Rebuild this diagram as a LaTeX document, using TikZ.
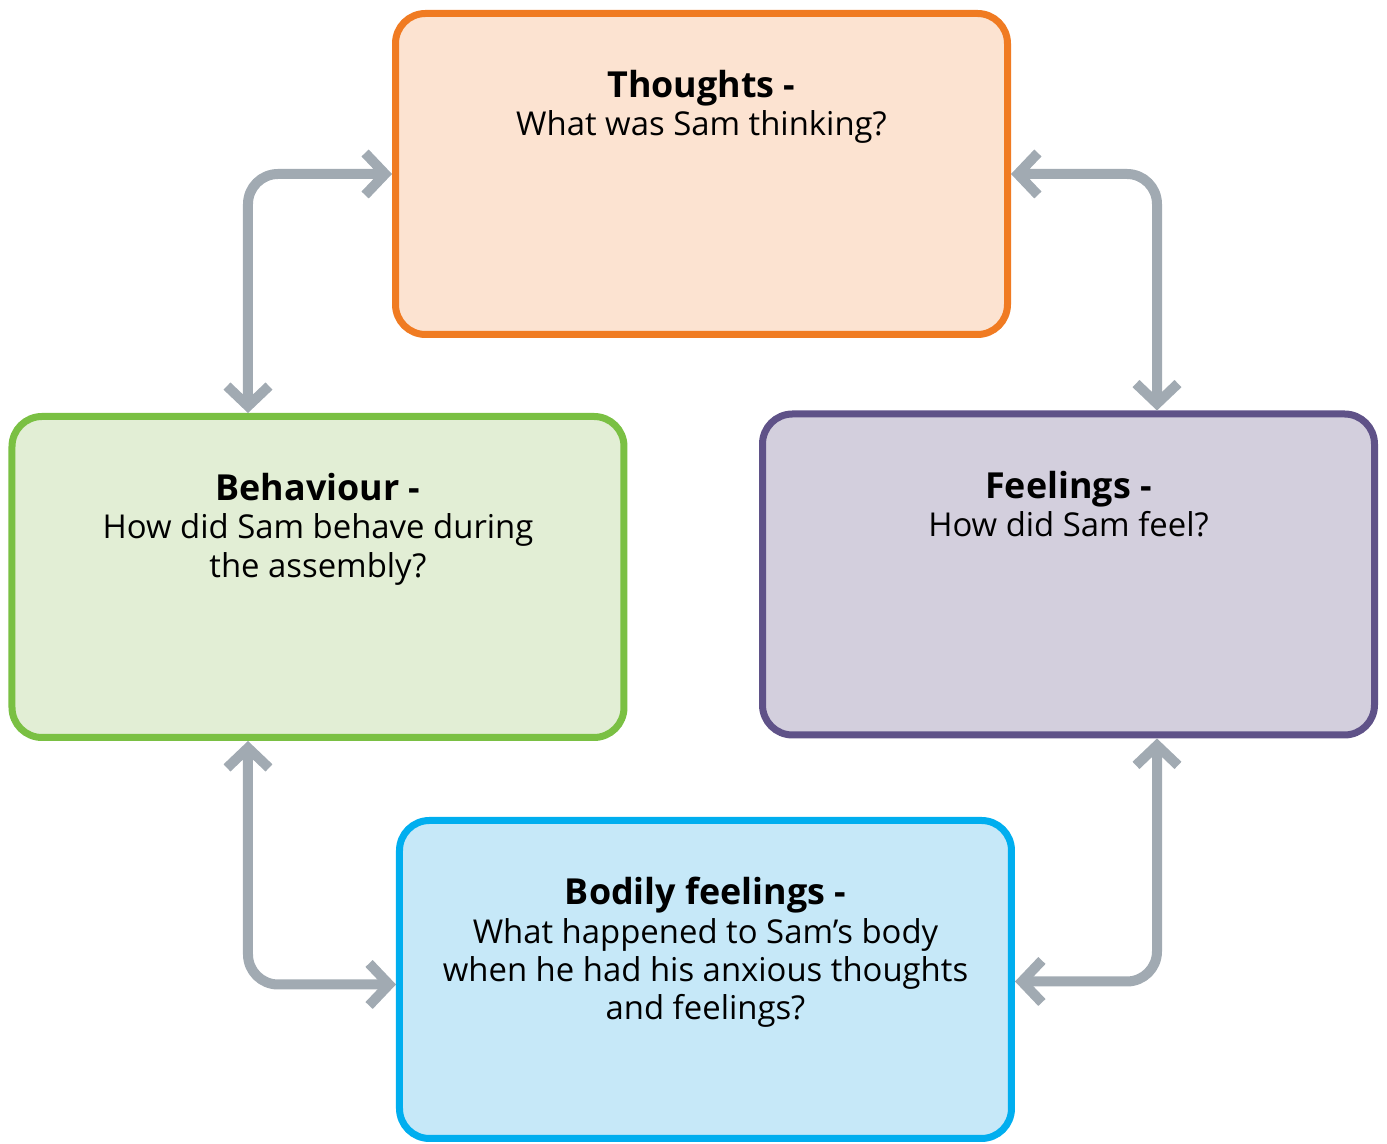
\documentclass[tikz,border=0pt]{standalone}
\usepackage{fontspec}
\setmainfont{Open Sans}
\usetikzlibrary{arrows.meta,positioning}
\tikzset{>={Straight Barb[length=2mm,width=4.2mm]}}
\definecolor{linkgray}{HTML}{A1AAB2}
\definecolor{thoughtsline}{HTML}{F07B22}
\definecolor{thoughtsfill}{HTML}{FCE3D1}
\definecolor{behavline}{HTML}{7AC043}
\definecolor{behavfill}{HTML}{E2EED5}
\definecolor{feelline}{HTML}{5F5288}
\definecolor{feelfill}{HTML}{D3CFDD}
\definecolor{bodyline}{HTML}{00AEEF}
\definecolor{bodyfill}{HTML}{C6E8F8}
\tikzstyle{box}=[rounded corners=3mm,line width=0.7mm,minimum width=6.12cm,minimum height=3.21cm]
\tikzstyle{link}=[<->,linkgray,line width=1mm,rounded corners=3mm]
\tikzstyle{txt}=[align=center,font=\fontsize{9.35}{10.9}\selectfont]
\newcommand\heading[1]{{\fontsize{10.2}{11}\selectfont\bfseries #1}}

\begin{document}
\begin{tikzpicture}
  \useasboundingbox (0,0) rectangle (13.87,-11.44);

  % BOXES
  \node[box,draw=thoughtsline,fill=thoughtsfill] (thoughts) at (7.015,-1.74) {};
  \node[box,draw=behavline,fill=behavfill] (behaviour) at (3.18,-5.77) {};
  \node[box,draw=feelline,fill=feelfill] (feelings) at (10.685,-5.745) {};
  \node[box,draw=bodyline,fill=bodyfill,minimum height=3.18cm] (bodily) at (7.055,-9.795) {};

  % TEXT
  \node[txt,below=4.8mm of thoughts.north] (thoughtstxt)
    {\heading{Thoughts -}\\What was Sam thinking?};
  \node[txt,below=4.8mm of behaviour.north] (behavtxt)
    {\heading{Behaviour -}\\How did Sam behave during\\the assembly?};
  \node[txt,below=4.8mm of feelings.north] (feeltxt)
    {\heading{Feelings -}\\How did Sam feel?};
  \node[txt,below=4.8mm of bodily.north] (bodytxt)
    {\heading{Bodily feelings -}\\What happened to Sam’s body\\when he had his anxious thoughts\\and feelings?};

  % ARROWS
  \draw[link] (thoughts.west) -| ([xshift=-7mm]behaviour.north);
  \draw[link] (thoughts.east) -| ([xshift=8.85mm]feelings.north);
  \draw[link] ([xshift=-7mm]behaviour.south) |- ([yshift=-0.5mm]bodily.west);
  \draw[link] ([xshift=8.85mm]feelings.south) |- ([yshift=-0.2mm]bodily.east);
\end{tikzpicture}
\end{document}
